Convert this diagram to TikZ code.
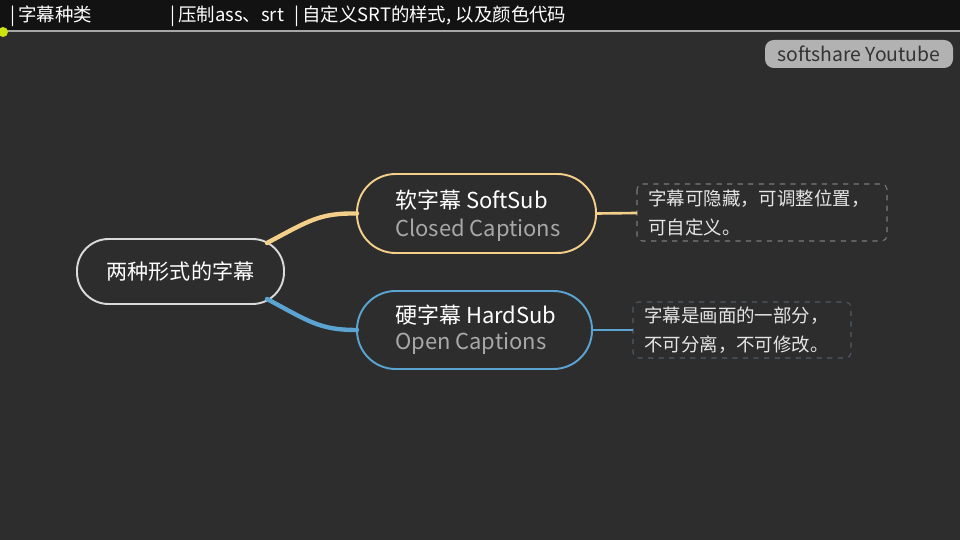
\documentclass[tikz,border=0pt]{standalone}
\usepackage{fontspec}
\setmainfont{Noto Sans CJK SC}
\definecolor{bg}{HTML}{2D2D2D}
\definecolor{barbg}{HTML}{121212}
\definecolor{softc}{HTML}{F3CF8A}
\definecolor{hardc}{HTML}{5BA3D0}
\definecolor{notec}{HTML}{7A7A7A}
\definecolor{noteb}{HTML}{4E5A66}
\definecolor{subtxt}{HTML}{A8A8A8}
\begin{document}
\begin{tikzpicture}[x=0.02cm, y=-0.02cm,
    pill/.style={rounded corners=#1, line width=1.1pt},
    notebox/.style={draw, dashed, rounded corners=3pt, line width=.6pt},
    branch/.style={line width=2.5pt}]
\fill[bg](0,0) rectangle (960,540);
\useasboundingbox (0,0) rectangle (960,540);
\fill[barbg](0,0) rectangle (960,31);
\draw[gray!70, line width=.8pt](0,31)--(960,31);
\node[white, font=\fontsize{10.5}{10.5}\selectfont, anchor=west] (t1) at (4,16) {|\,字幕种类};
\node[white, font=\fontsize{10.5}{10.5}\selectfont, anchor=west] (t2) at (164,16) {|\,压制ass、srt};
\node[white, font=\fontsize{10.5}{10.5}\selectfont, anchor=west] (t3) at (288,16) {|\,自定义SRT的样式, 以及颜色代码};
\fill[yellow!80!green](3,32) circle (5);
\fill[gray!60, rounded corners=5pt] (765,40) rectangle (953,68);
\node[text=black!80, font=\fontsize{11}{11}\selectfont] (yt) at (859,54) {softshare Youtube};

\draw[white!85!black, pill=18pt] (77,239) rectangle (284,304);
\node[text=white, font=\fontsize{12}{12}\selectfont] (root) at (180.5,271.5) {两种形式的字幕};
\draw[softc, pill=22pt] (357,174) rectangle (596,253);
\coordinate (softw) at (357,213.5);
\coordinate (softe) at (596,213.5);
\node[anchor=west, text=white, font=\fontsize{12.5}{12.5}\selectfont] (softa) at (389,200) {软字幕 SoftSub};
\node[anchor=west, text=subtxt, font=\fontsize{12.5}{12.5}\selectfont] (softb) at (389,230) {Closed Captions};
\draw[hardc, pill=22pt] (357,291) rectangle (592,369);
\coordinate (hardw) at (357,330);
\coordinate (harde) at (592,330);
\node[anchor=west, text=white, font=\fontsize{12.5}{12.5}\selectfont] (harda) at (389,315) {硬字幕 HardSub};
\node[anchor=west, text=subtxt, font=\fontsize{12.5}{12.5}\selectfont] (hardb) at (389,344) {Open Captions};

\draw[notebox, notec] (637,184) rectangle (887,241);
\coordinate (note1) at (637,213);
\node[anchor=west, text=white!90!black, align=left, font=\fontsize{10.5}{16.5}\selectfont] (n1) at (642,213) {字幕可隐藏，可调整位置，\\可自定义。};
\draw[notebox, noteb] (633,302) rectangle (851,358);
\coordinate (note2) at (633,330);
\node[anchor=west, text=white!90!black, align=left, font=\fontsize{10.5}{16.5}\selectfont] (n2) at (638,330) {字幕是画面的一部分，\\不可分离，不可修改。};

% branches
\coordinate (rs) at (267,243);
\coordinate (rh) at (267,299);
\draw[branch, softc, line cap=round] (rs) .. controls (310,220) and (320,213) .. (softw);
\draw[branch, hardc, line cap=round] (rh) .. controls (310,322) and (320,330) .. (hardw);
\draw[softc, line width=1.5pt] (softe)--(note1);
\draw[hardc, line width=1.5pt] (harde)--(note2);
\end{tikzpicture}
\end{document}
